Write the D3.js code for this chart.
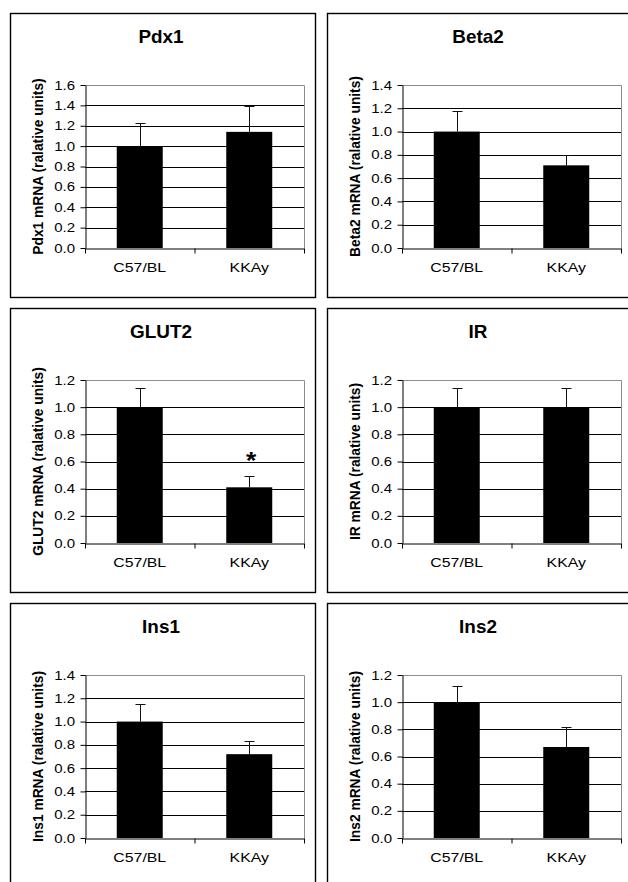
<!DOCTYPE html>
<html>
<head>
<meta charset="utf-8">
<script src="https://cdn.jsdelivr.net/npm/d3@7"></script>
<style>
  body { margin: 0; background: #fff; }
  svg { display: block; }
</style>
</head>
<body>
<script>
// ---- data ----
const genes = ['Pdx1', 'Beta2', 'GLUT2', 'IR', 'Ins1', 'Ins2'];
const strains = ['C57/BL', 'KKAy'];

const pdx1 = [1.00, 1.14],  pdx1Err = [0.23, 0.25];
const beta2 = [1.00, 0.71], beta2Err = [0.18, 0.09];
const glut2 = [1.00, 0.41], glut2Err = [0.14, 0.08];
const ir = [1.00, 1.00],    irErr = [0.14, 0.14];
const ins1 = [1.00, 0.72],  ins1Err = [0.15, 0.11];
const ins2 = [1.00, 0.67],  ins2Err = [0.12, 0.15];

const yMaxes = [1.6, 1.4, 1.2, 1.2, 1.4, 1.2];
const yStep = 0.2;
// asterisk marks: [gene, strain]
const starred = [['GLUT2', 'KKAy']];

const means = [pdx1, beta2, glut2, ir, ins1, ins2];
const errs = [pdx1Err, beta2Err, glut2Err, irErr, ins1Err, ins2Err];

// ---- layout ----
const width = 628, height = 882;
const panel = {w: 305, h: 284, dx: 317, dy: 295, x0: 10, y0: 13};
const plot = {left: 75, top: 72, right: 294, bottom: 235};
const font = '"Liberation Sans", Arial, sans-serif';

// the figure's text is a little wider than plain Arial, so stretch it horizontally
const styles = {
  title: {size: 18, sx: 1.05, weight: 'bold'},
  ytitle: {size: 13.8, sx: 1.05, weight: 'bold'},
  tick: {size: 12.5, sx: 1.2, weight: 'normal'},
  xlabel: {size: 13, sx: 1.22, weight: 'normal'},
  star: {size: 24, sx: 1.1, weight: 'bold'}
};

const svg = d3.select('body').append('svg')
  .attr('width', width)
  .attr('height', height);

function stretchedText(g, x, y, str, st, anchor, rotate) {
  return g.append('text')
    .attr('transform', `translate(${x},${y}) scale(${st.sx},1)` + (rotate ? ` rotate(${rotate})` : ''))
    .attr('text-anchor', anchor || 'middle')
    .style('font-family', font)
    .style('font-size', st.size + 'px')
    .style('font-weight', st.weight)
    .attr('fill', '#000')
    .text(str);
}

genes.forEach((gene, i) => {
  const col = i % 2, row = Math.floor(i / 2);
  const px = panel.x0 + col * panel.dx;
  const py = panel.y0 + row * panel.dy;
  const g = svg.append('g').attr('transform', `translate(${px},${py})`);

  // panel frame
  g.append('rect')
    .attr('x', 0.5).attr('y', 0.5)
    .attr('width', panel.w).attr('height', panel.h)
    .attr('fill', '#fff')
    .attr('stroke', '#000')
    .attr('stroke-width', 1.4);

  const yMax = yMaxes[i];
  const y = d3.scaleLinear().domain([0, yMax]).range([plot.bottom, plot.top]);
  const x = d3.scaleBand().domain(strains).range([plot.left, plot.right])
    .paddingInner(0.58).paddingOuter(0.29);
  const xEdge = d3.scaleLinear().domain([0, strains.length]).range([plot.left, plot.right]);
  const ticks = d3.range(0, yMax + 1e-9, yStep).map(v => +v.toFixed(1));

  // gridlines
  g.append('g').selectAll('line')
    .data(ticks.filter(t => t > 0 && t < yMax))
    .join('line')
    .attr('x1', plot.left).attr('x2', plot.right)
    .attr('y1', d => Math.round(y(d)) + 0.5).attr('y2', d => Math.round(y(d)) + 0.5)
    .attr('stroke', '#000').attr('stroke-width', 1);

  // plot-area border (top / right in grey)
  g.append('path')
    .attr('d', `M${plot.left},${Math.round(y(yMax)) + 0.5}H${plot.right + 0.5}V${plot.bottom}`)
    .attr('fill', 'none').attr('stroke', '#8c8c8c').attr('stroke-width', 1);

  // bars
  const vals = means[i], ev = errs[i];
  g.append('g').selectAll('rect')
    .data(strains)
    .join('rect')
    .attr('x', d => x(d))
    .attr('width', x.bandwidth())
    .attr('y', (d, j) => y(vals[j]))
    .attr('height', (d, j) => y(0) - y(vals[j]))
    .attr('fill', '#000');

  // error bars (upper only)
  const eb = g.append('g').attr('stroke', '#111').attr('stroke-width', 1);
  strains.forEach((s, j) => {
    const cx = Math.round(x(s) + x.bandwidth() / 2) + 0.5;
    const top = Math.round(y(vals[j] + ev[j])) + 0.5;
    eb.append('line').attr('x1', cx).attr('x2', cx).attr('y1', y(vals[j])).attr('y2', top);
    eb.append('line').attr('x1', cx - 5).attr('x2', cx + 5).attr('y1', top).attr('y2', top);
  });

  // y axis
  const yAxis = g.append('g')
    .attr('transform', `translate(${plot.left + 0.5},0)`)
    .call(d3.axisLeft(y).tickValues(ticks).tickSize(5).tickSizeOuter(0).tickFormat(''));
  yAxis.select('.domain').attr('stroke', '#000');
  ticks.forEach(t => {
    stretchedText(g, plot.left - 10, y(t), d3.format('.1f')(t), styles.tick, 'end')
      .attr('dy', '0.36em');
  });

  // x axis
  const xAxis = g.append('g')
    .attr('transform', `translate(0,${plot.bottom + 0.5})`)
    .call(d3.axisBottom(xEdge).tickValues(d3.range(0, strains.length + 1)).tickSize(5).tickSizeOuter(0).tickFormat(''));
  xAxis.select('.domain').attr('stroke', '#000');
  strains.forEach(s => {
    stretchedText(g, x(s) + x.bandwidth() / 2, plot.bottom + 24, s, styles.xlabel);
  });

  // titles
  stretchedText(g, 151, 30, gene, styles.title);
  stretchedText(g, 32.5, (plot.top + plot.bottom) / 2, `${gene} mRNA (ralative units)`, styles.ytitle, 'middle', -90);

  // significance marks
  starred.filter(d => d[0] === gene).forEach(d => {
    const j = strains.indexOf(d[1]);
    stretchedText(g, x(d[1]) + x.bandwidth() / 2 + 2, y(vals[j] + ev[j]) - 7, '*', styles.star);
  });
});
</script>
</body>
</html>
